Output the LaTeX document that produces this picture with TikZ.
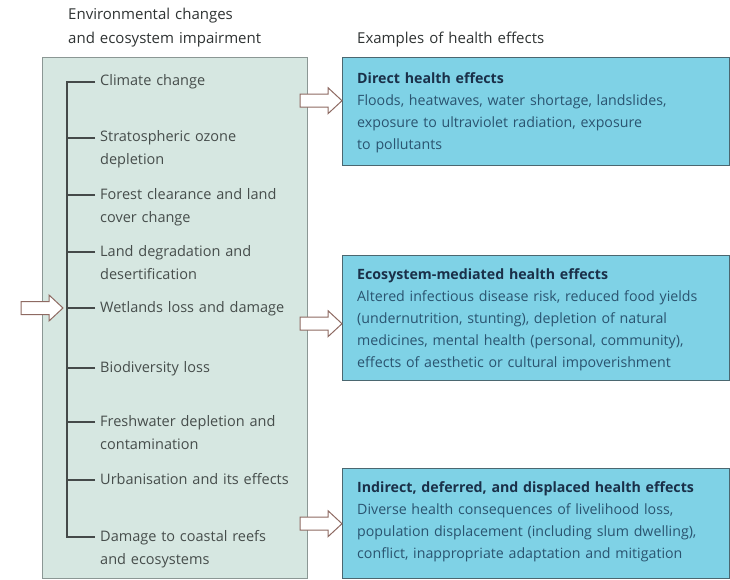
\documentclass[tikz,border=0pt]{standalone}
\usepackage{fontspec}
\setmainfont{Open Sans}
\usetikzlibrary{calc}

\definecolor{envfill}{HTML}{D6E7E1}
\definecolor{envline}{HTML}{8B9794}
\definecolor{trunkline}{HTML}{454A49}
\definecolor{itemtext}{HTML}{464D4B}
\definecolor{headtext}{HTML}{2F3333}
\definecolor{efffill}{HTML}{7FD2E6}
\definecolor{effline}{HTML}{4B6770}
\definecolor{efftitle}{HTML}{1A3049}
\definecolor{effbody}{HTML}{2A5470}
\definecolor{arrowline}{HTML}{8E6A62}

\newcommand{\headfont}{\fontsize{15}{24}\selectfont}
\newcommand{\itemfont}{\fontsize{14.5}{23}\selectfont}
\newcommand{\efffont}{\fontsize{14.2}{22}\selectfont}

\begin{document}
\begin{tikzpicture}[x=1pt,y=-1pt,
  envbox/.style={draw=envline, line width=1.4pt, fill=envfill, anchor=north west,
    inner sep=0pt, minimum width=265pt, minimum height=521pt},
  effectbox/.style={draw=effline, line width=1.4pt, fill=efffill, anchor=north west,
    inner sep=0pt, minimum width=387pt},
  heading/.style={anchor=base west, inner sep=0pt, text width=260pt, align=left,
    font=\headfont, text=headtext},
  item/.style={anchor=base west, inner sep=0pt, text width=200pt, align=left,
    font=\itemfont, text=itemtext},
  efftext/.style={anchor=base west, inner sep=0pt, text width=372pt, align=left,
    font=\efffont, text=effbody},
  trunk/.style={draw=trunkline, line width=1.3pt},
  arrowstyle/.style={draw=arrowline, fill=white, line width=1pt, line join=miter},
  blockarrow/.pic={\path[arrowstyle] (0,0) -- (-14,-13) -- (-14,-6.5) -- (-42,-6.5)
    -- (-42,6.5) -- (-14,6.5) -- (-14,13) -- cycle;}
]
\useasboundingbox (0,0) rectangle (730,580);

% column headings
\node[heading] (hleft) at (68,19.5) {Environmental changes\\and ecosystem impairment};
\node[heading] (hright) at (357,43.5) {Examples of health effects};

% left panel: environmental changes
\node[envbox] (env) at (42,57) {};

\node[item] (i1) at (100,86)  {Climate change};
\node[item] (i2) at (100,142) {Stratospheric ozone\\depletion};
\node[item] (i3) at (100,199) {Forest clearance and land\\cover change};
\node[item] (i4) at (100,256) {Land degradation and\\desertification};
\node[item] (i5) at (100,312) {Wetlands loss and damage};
\node[item] (i6) at (100,372) {Biodiversity loss};
\node[item] (i7) at (100,426) {Freshwater depletion and\\contamination};
\node[item] (i8) at (100,484) {Urbanisation and its effects};
\node[item] (i9) at (100,541) {Damage to coastal reefs\\and ecosystems};

% bracket joining the items
\draw[trunk] ($(i1.base west)+(-5,-4)$) -- ++(-28,0) coordinate (ttop)
  |- ($(i9.base west)+(-5,-4)$);
\foreach \n in {i2,i3,i4,i5,i6,i7,i8}
  \draw[trunk] ($(\n.base west)+(-5,-4)$) -- ($(\n.base west)+(-33,-4)$);

% right panels: health effects
\node[effectbox, minimum height=108pt] (d1) at (342,57) {};
\node[effectbox, minimum height=125pt] (d2) at (342,255) {};
\node[effectbox, minimum height=110pt] (d3) at (342,468) {};

\node[efftext] (t1) at ($(d1.north west)+(15,27)$)
  {\textcolor{efftitle}{\bfseries Direct health effects}\\
   Floods, heatwaves, water shortage, landslides,\\
   exposure to ultraviolet radiation, exposure\\
   to pollutants};
\node[efftext] (t2) at ($(d2.north west)+(15,24)$)
  {\textcolor{efftitle}{\bfseries Ecosystem-mediated health effects}\\
   Altered infectious disease risk, reduced food yields\\
   (undernutrition, stunting), depletion of natural\\
   medicines, mental health (personal, community),\\
   effects of aesthetic or cultural impoverishment};
\node[efftext] (t3) at ($(d3.north west)+(15,24)$)
  {\textcolor{efftitle}{\bfseries Indirect, deferred, and displaced health effects}\\
   Diverse health consequences of livelihood loss,\\
   population displacement (including slum dwelling),\\
   conflict, inappropriate adaptation and mitigation};

% block arrows
\pic at ($(i5.base west)+(-37,-4)$) {blockarrow};
\pic at ($(d1.west)+(0,-11)$) {blockarrow};
\pic at ($(d2.west)+(0,5.5)$) {blockarrow};
\pic at (d3.west) {blockarrow};
\end{tikzpicture}
\end{document}
